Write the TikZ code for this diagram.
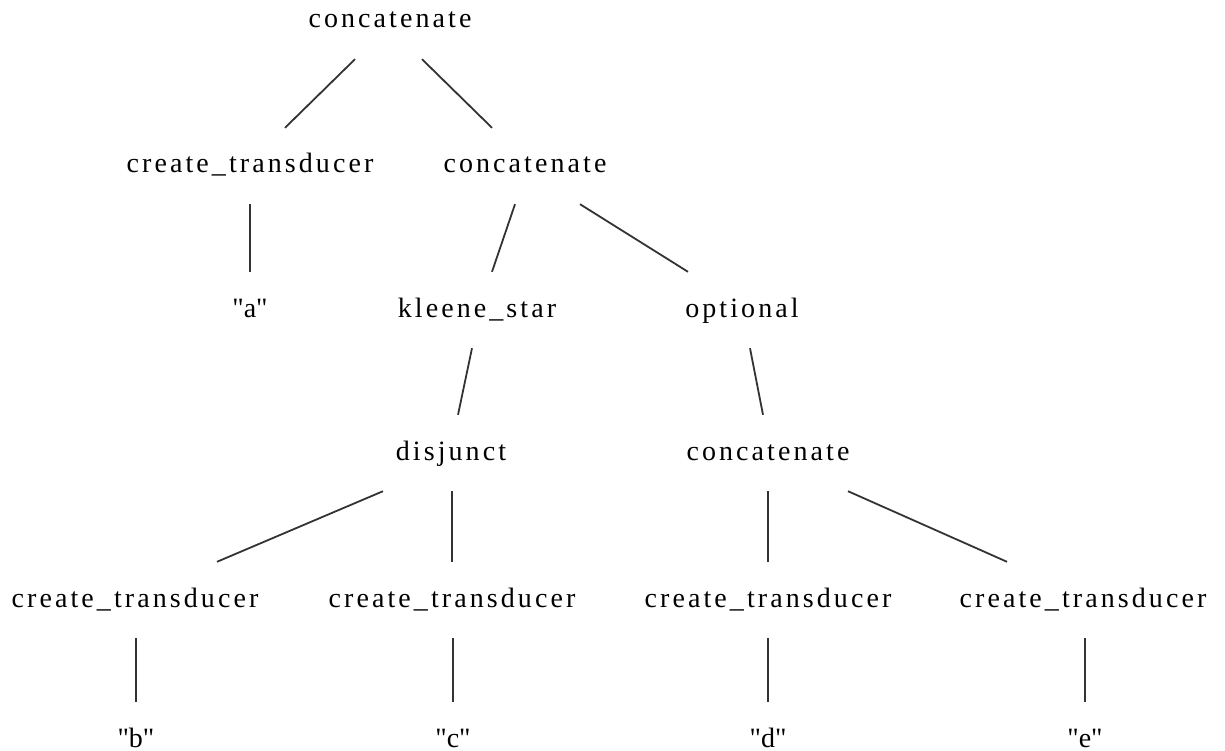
\documentclass[tikz,border=0pt]{standalone}
\usepackage{fontspec}
\setmainfont[LetterSpace=11]{Liberation Serif}
\newcommand{\qt}[1]{\textquotedbl#1\textquotedbl}
\begin{document}
\begin{tikzpicture}[x=1pt,y=-1pt,
  lbl/.style={font=\fontsize{28}{32}\selectfont, inner sep=0pt,
    text height=14pt, text depth=0pt, minimum height=76pt},
  edge/.style={draw=black!80, line width=1.8pt}]
\useasboundingbox (0,0) rectangle (1225,751);

% tree nodes, one row at a time
\node[lbl] (root) at (390,21)  {concatenate};

\node[lbl] (ct1)  at (250,166) {create\_transducer};
\node[lbl] (cat1) at (525,166) {concatenate};

\node[lbl] (qa)   at (250,310) {\qt{a}};
\node[lbl] (star) at (477,310) {kleene\_star};
\node[lbl] (opt)  at (742,310) {optional};

\node[lbl] (disj) at (451,453) {disjunct};
\node[lbl] (cat2) at (768,453) {concatenate};

\node[lbl] (ctb)  at (135,600) {create\_transducer};
\node[lbl] (ctc)  at (452,600) {create\_transducer};
\node[lbl] (ctd)  at (768,600) {create\_transducer};
\node[lbl] (cte)  at (1083,600) {create\_transducer};

\node[lbl] (lb)   at (136,740) {\qt{b}};
\node[lbl] (lc)   at (453,740) {\qt{c}};
\node[lbl] (ld)   at (768,740) {\qt{d}};
\node[lbl] (le)   at (1085,740) {\qt{e}};

% parent-child links
\draw[edge] ([xshift=-35pt]root.south) -- ([xshift=35pt]ct1.north);
\draw[edge] ([xshift=32pt]root.south)  -- ([xshift=-33pt]cat1.north);
\draw[edge] (ct1.south) -- (qa.north);
\draw[edge] ([xshift=-10pt]cat1.south) -- ([xshift=15pt]star.north);
\draw[edge] ([xshift=55pt]cat1.south)  -- ([xshift=-54pt]opt.north);
\draw[edge] ([xshift=-5pt]star.south)  -- ([xshift=7pt]disj.north);
\draw[edge] ([xshift=8pt]opt.south)    -- ([xshift=-5pt]cat2.north);
\draw[edge] ([xshift=-68pt]disj.south) -- ([xshift=82pt]ctb.north);
\draw[edge] ([xshift=1pt]disj.south)   -- (ctc.north);
\draw[edge] (cat2.south) -- (ctd.north);
\draw[edge] ([xshift=80pt]cat2.south)  -- ([xshift=-76pt]cte.north);
\draw[edge] ([xshift=1pt]ctb.south) -- (lb.north);
\draw[edge] ([xshift=1pt]ctc.south) -- (lc.north);
\draw[edge] (ctd.south) -- (ld.north);
\draw[edge] ([xshift=2pt]cte.south) -- (le.north);
\end{tikzpicture}
\end{document}
